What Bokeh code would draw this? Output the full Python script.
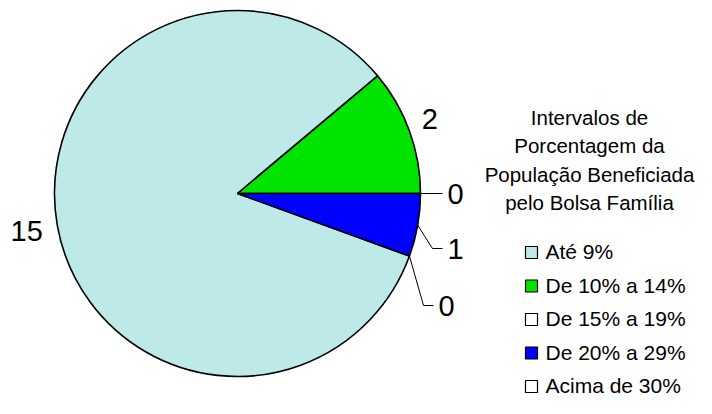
import math
from bokeh.plotting import figure
from bokeh.models import Range1d, ColumnDataSource
from bokeh.core.properties import value
from bokeh.embed import file_html
from bokeh.resources import INLINE

# ---- data ----
categories = ["Até 9%", "De 10% a 14%", "De 15% a 19%", "De 20% a 29%", "Acima de 30%"]
counts = [15, 2, 0, 1, 0]
colors = ["#bde9e9", "#00e400", "#ffffff", "#0000ff", "#ffffff"]
legend_title = ["Intervalos de", "Porcentagem da", "População Beneficiada", "pelo Bolsa Família"]

# ---- layout (data units == screen pixels, y measured from bottom) ----
W, H = 696, 398
FONT = value("Liberation Sans")
cx, cy, R = 237, H - 193, 183
start_deg = -20.0  # first slice starts here, slices go clockwise

p = figure(width=W, height=H, output_backend="svg", toolbar_location=None,
           x_range=Range1d(0, W), y_range=Range1d(0, H), min_border=0)
p.axis.visible = False
p.grid.visible = False
p.outline_line_color = None
p.background_fill_color = "white"

total = sum(counts)
starts, ends, mids = [], [], []
cum = 0.0
for c in counts:
    a_before = start_deg - cum / total * 360.0
    cum += c
    a_after = start_deg - cum / total * 360.0
    starts.append(math.radians(a_after))
    ends.append(math.radians(a_before))
    mids.append(math.radians((a_before + a_after) / 2))

nz = [i for i, c in enumerate(counts) if c > 0]
src = ColumnDataSource(dict(
    start=[starts[i] for i in nz], end=[ends[i] for i in nz],
    color=[colors[i] for i in nz]))
p.wedge(x=cx, y=cy, radius=R, start_angle="start", end_angle="end",
        direction="anticlock", fill_color="color", line_color="black",
        line_width=1.6, source=src)

# ---- data labels ----
outer_nudge = {0: (-4, -1), 1: (-5, 3)}  # small placement tweaks (pixels)
leader = {  # index -> (elbow dx, elbow dy, horizontal length) relative to center
    2: None,
    3: (195, -55, 10),
    4: (186, -112, 10),
}
lx, ly, ltxt, lalign = [], [], [], []
xs, ys = [], []
for i, c in enumerate(counts):
    ang = mids[i]
    if i in outer_nudge:
        rl = 210
        nx, ny = outer_nudge[i]
        lx.append(cx + rl * math.cos(ang) + nx)
        ly.append(cy + rl * math.sin(ang) + ny)
        ltxt.append(str(c)); lalign.append("center")
    else:
        ex, ey = cx + R * math.cos(ang), cy + R * math.sin(ang)
        if leader[i] is None:
            endx, endy = cx + R + 22, ey
            xs.append([ex, endx]); ys.append([ey, endy])
        else:
            dx, dy, ln = leader[i]
            elx, ely = cx + dx, cy + dy
            endx, endy = elx + ln, ely
            xs.append([ex, elx, endx]); ys.append([ey, ely, endy])
        lx.append(endx + 5); ly.append(endy)
        ltxt.append(str(c)); lalign.append("left")

p.multi_line(xs=xs, ys=ys, line_color="black", line_width=1)
p.text(x=lx, y=ly, text=ltxt, text_align=lalign, text_baseline="middle",
       text_font=FONT, text_font_size="29px", text_color="black")

# ---- legend ----
title_x = 589
title_top = H - 117
title_step = 28.3
p.text(x=[title_x] * len(legend_title),
       y=[title_top - k * title_step for k in range(len(legend_title))],
       text=legend_title, text_align="center", text_baseline="middle",
       text_font=FONT, text_font_size="20.5px", text_color="black")

item_top = H - 251
item_step = 33.5
iy = [item_top - k * item_step for k in range(len(categories))]
p.rect(x=[531] * len(categories), y=[v - 1 for v in iy], width=12, height=12,
       width_units="screen", height_units="screen",
       fill_color=colors, line_color="black", line_width=1.2)
p.text(x=[545] * len(categories), y=iy, text=categories, text_align="left",
       text_baseline="middle", text_font=FONT, text_font_size="21px",
       text_color="black")

open("out.html", "w").write(file_html(p, INLINE))
